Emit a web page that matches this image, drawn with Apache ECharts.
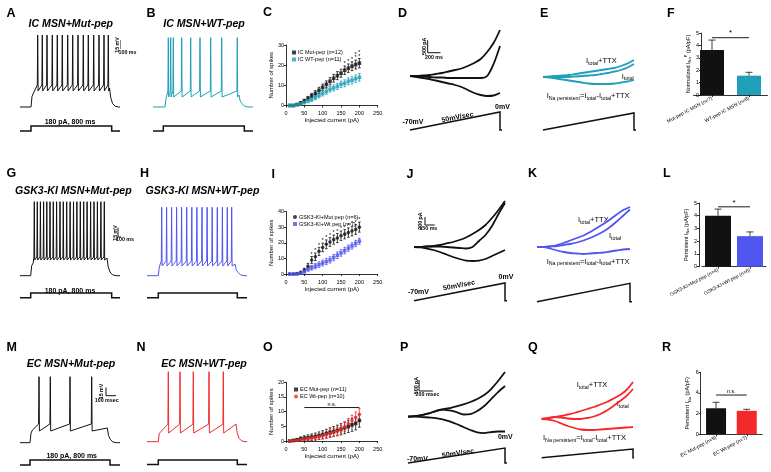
<!DOCTYPE html>
<html><head><meta charset="utf-8">
<script src="https://cdn.jsdelivr.net/npm/echarts@6/dist/echarts.min.js"></script>
<style>html,body{margin:0;padding:0;background:#fff}#c{width:771px;height:472px}</style>
</head><body><div id="c"></div>
<script>
// ================= DATA =================
// injected current steps (pA)
const currentSteps = [10,20,30,40,50,60,70,80,90,100,110,120,130,140,150,160,170,180,190,200];
// C: IC MSN
const icMutMean = [0,0,0.5,1.3,2.3,3.5,4.8,6,7.5,9,10.5,12,13.5,14.8,16,17.5,18.5,19.5,20.3,21];
const icMutErr  = [0,0.2,0.4,0.6,0.8,1,1.2,1.4,1.5,1.6,1.7,1.8,1.9,2,2,2.1,2.1,2.2,2.2,2.3];
const icWtMean  = [0,0,0.3,0.8,1.5,2.3,3,4,5,6,7,8,8.7,9.5,10.5,11,12,12.5,13.3,14];
const icWtErr   = [0,0.1,0.3,0.5,0.7,0.9,1,1.1,1.2,1.3,1.4,1.4,1.5,1.5,1.6,1.7,1.7,1.8,1.8,1.9];
const icStarX   = [160,170,180,190,200];
const icStarTxt = ['*','*','*','*\n*','*\n*'];
// I: GSK3-KI MSN
const gskMutMean = [0,0,0.3,1,2.5,5,9,11,14.5,17,19,20.5,22,23,24.5,25.5,26.5,27.5,28.5,30];
const gskMutErr  = [0,0.2,0.4,0.8,1.2,1.8,2.2,2.4,2.6,2.7,2.8,2.8,2.9,2.9,3,3,3,3.1,3.1,3.2];
const gskWtMean  = [0,0,0,0.5,1.5,3,4,5,6,7,8,9,10.5,12,13.5,15,16.5,18,19.5,21];
const gskWtErr   = [0,0.1,0.2,0.4,0.8,1.2,1.5,1.7,1.8,1.9,2,2,2,2.1,2.1,2.1,2,2,2,2];
const gskStarX   = [70,80,90,100,110,120,130,140,150,160,170,180,190,200];
// O: EC MSN
const ecMutMean = [0,0.2,0.4,0.7,0.9,1.1,1.3,1.5,1.8,2.1,2.5,2.9,3.2,3.6,4,4.5,5,5.5,6,7];
const ecMutErr  = [0.2,0.3,0.5,0.7,0.9,1,1.1,1.2,1.3,1.4,1.5,1.6,1.7,1.8,1.9,2,2.1,2.2,2.2,2.3];
const ecWtMean  = [0,0,0.2,0.4,0.6,0.8,1,1.2,1.5,1.8,2.1,2.5,2.9,3.3,3.8,4.8,6,7,8,9];
const ecWtErr   = [0.1,0.2,0.3,0.4,0.5,0.6,0.7,0.8,0.9,1,1.1,1.2,1.3,1.4,1.5,1.6,1.7,1.8,1.9,2];
const ecNsRange = [50,200]; const ecNsLevel = 11.4;
// Bar charts
const icBarLabels = ['Mut-pep IC MSN (n=7)','WT-pep IC MSN (n=8)'];
const icBarMean = [3.63,1.56]; const icBarErr = [0.8,0.27]; const icBarSig = [4.62,'*'];
const gskBarLabels = ['GSK3-KI+Mut pep (n=4)','GSK3-KI+Wt pep (n=6)'];
const gskBarMean = [4.0,2.4]; const gskBarErr = [0.52,0.33]; const gskBarSig = [4.7,'*'];
const ecBarLabels = ['EC Mut-pep (n=9)','EC Wt-pep (n=7)'];
const ecBarMean = [2.52,2.27]; const ecBarErr = [0.58,0.15]; const ecBarSig = [3.8,'n.s.'];
// Current-clamp traces: spike times (ms)
const icMutSpikes  = [177,223,270,323,373,423,477,527,580,633,683,737,790,840,883];
const icWtSpikes   = [153,177,203,287,377,470,577,687,843];
const gskMutSpikes = [143,173,204,236,268,300,333,366,400,433,467,501,535,569,603,637,671,706,740,774,809,843];
const gskWtSpikes  = [147,196,246,296,346,397,448,499,550,601,652,703,754,803,847];
const ecMutSpikes  = [190,303,500,717];
const ecWtSpikes   = [213,330,463,620,763];
// protocol times (ms): [stim on, stim off, response on, response decay]
const icMutProto  = [110,917,110,895];
const icWtProto   = [103,913,120,860];
const gskMutProto = [107,917,107,870];
const gskWtProto  = [113,903,113,880];
const ecMutProto  = [100,900,100,873];
const ecWtProto   = [113,903,113,890];
const stimAmp = 180;
// voltages (mV): [rest, early plateau, threshold, AHP, peak, end plateau]
const icMutV  = [-80,-56.7,-43.3,-53.3,40,-48.3];
const icWtV   = [-80,-62.7,-52.3,-62.7,40,-59.2];
const gskMutV = [-80,-59.4,-49.7,-54.6,40,-51.3];
const gskWtV  = [-80,-61.2,-54.2,-63,40,-59.5];
const ecMutV  = [-80,-56.9,-46,-58.7,40,-53.3];
const ecWtV   = [-80,-63.4,-50,-65.1,40,-49.7];
// Voltage-ramp currents (pA), sampled every 100 ms of the ramp
const rampTimes = [0,100,200,300,400,500,600,700,800,900,1000,1100,1200,1300,1400];
const rampT = [0,1400,1400,1460]; const rampV = [-70,0,-70,-70];
const dUpper  = [0,0,20,40,80,120,180,240,300,400,520,680,960,1320,1840];
const dMiddle = [0,0,-20,-40,-60,-60,-80,-80,-80,-80,-80,-80,0,480,1200];
const dLower  = [0,-40,-80,-120,-180,-240,-300,-360,-440,-560,-680,-760,-800,-780,-680];
const eTtx    = [0,20,40,60,80,120,160,200,240,280,320,360,440,540,680];
const eTotal  = [0,0,0,0,0,20,40,60,80,120,160,220,280,380,520];
const eLower  = [0,-20,-60,-100,-140,-180,-220,-260,-280,-280,-280,-260,-220,-180,-120];
const jUpper  = [0,0,12,25,50,88,125,175,238,325,425,550,725,925,1150];
const jMiddle = [0,0,12,12,12,0,-12,-25,-38,0,150,300,525,825,1100];
const jLower  = [0,-12,-38,-75,-125,-188,-250,-300,-338,-350,-338,-300,-225,-150,-75];
const kTtx    = [0,0,20,80,160,260,360,460,600,760,920,1100,1300,1480,1600];
const kTotal  = [0,0,20,40,80,120,180,260,360,480,620,800,1020,1260,1500];
const kLower  = [0,0,-60,-140,-200,-240,-260,-280,-260,-240,-220,-180,-140,-100,-80];
const pUpper  = [0,30,75,145,255,325,390,460,550,660,795,975,1245,1605,2010];
const pMiddle = [0,30,75,145,255,325,280,210,100,120,255,480,795,1110,1380];
const pLower  = [0,0,-15,-35,-60,-125,-215,-330,-465,-600,-710,-735,-690,-665,-665];
const qTtx    = [0,40,80,120,180,240,320,400,480,580,680,820,960,1160,1480];
const qTotal  = [0,40,80,60,20,0,0,40,100,200,340,520,720,920,1200];
const qLower  = [0,-20,-80,-180,-280,-360,-420,-440,-440,-420,-400,-380,-360,-340,-320];

// ================= STYLE / LAYOUT =================
const FONT = '"Liberation Sans", Arial, Helvetica, sans-serif';
const BLACK = '#111111', TEAL = '#1f9fb8', BLUE = '#4f55ee', RED = '#f42a2a';
const grids = [], xAxes = [], yAxes = [], series = [], legends = [], texts = [];

function hiddenGrid(left, top, width, height, xmin, xmax, ymin, ymax) {
  grids.push({left, top, width, height});
  const i = grids.length - 1;
  xAxes.push({gridIndex:i, type:'value', min:xmin, max:xmax, show:false});
  yAxes.push({gridIndex:i, type:'value', min:ymin, max:ymax, show:false});
  return i;
}
function line(i, data, color, width, extra) {
  series.push(Object.assign({type:'line', xAxisIndex:i, yAxisIndex:i, data, symbol:'none', silent:true,
    clip:false, lineStyle:{color, width, join:'miter'}}, extra || {}));
}
function buildTrace(spikes, proto, vp) {
  const [, , vOn, vOff] = proto;
  const [rest, v0, thr, ahp, peak, endV] = vp;
  const d = [[0,rest],[vOn,rest],[vOn+10,(rest+v0)/2+6],[vOn+25,v0]];
  spikes.forEach(t => { d.push([t-4,thr],[t,peak],[t+4,ahp]); });
  d.push([vOff,endV],[vOff+12,(endV+rest)/2],[vOff+30,rest+6],[vOff+55,rest+1.5],[vOff+90,rest],[1000,rest]);
  return d;
}
function stepData(proto) {
  return [[0,0],[proto[0],0],[proto[0],stimAmp],[proto[1],stimAmp],[proto[1],0],[1000,0]];
}
function spikePanel(lay, color, spikes, proto, vp, bar) {
  const [left, peakY, restY, stepTop, stepBottom] = lay;
  const g = hiddenGrid(left, peakY, 100, restY - peakY, 0, 1000, vp[0], vp[4]);
  line(g, buildTrace(spikes, proto, vp), color, 1);
  if (bar) line(g, [[bar[0], bar[1]+15],[bar[0], bar[1]],[bar[0]+100, bar[1]]], BLACK, 1);
  const s = hiddenGrid(left, stepTop, 100, stepBottom - stepTop, 0, 1000, 0, stimAmp);
  line(s, stepData(proto), BLACK, 1.5);
}
function currentPanel(lay, color, traces, bar) {
  const [left, width, y0, s, rampTop, rampH] = lay;
  const g = hiddenGrid(left, y0 - 2200/s, width, 3400/s, 0, 1400, -1200, 2200);
  traces.forEach(tr => line(g, rampTimes.map((t,k) => [t, tr[k]]), color, 1.8, {smooth:0.3}));
  if (bar) line(g, [[bar[0], bar[1]+bar[2]],[bar[0], bar[1]],[bar[0]+bar[3], bar[1]]], BLACK, 1);
  const r = hiddenGrid(left, rampTop, width, rampH, 0, 1400, -70, 0);
  line(r, rampT.map((t,k) => [t, rampV[k]]), BLACK, 1.5);
}
const axLine = {show:true, lineStyle:{color:'#000', width:0.8}};
const axTick = {show:true, length:2, lineStyle:{color:'#000', width:0.8}};
function errSeries(i, xs, means, errs, color, upOnly, cw) {
  series.push({type:'custom', xAxisIndex:i, yAxisIndex:i, silent:true, clip:false,
    data: xs.map((x,k) => [x, means[k], errs[k]]),
    renderItem: (p, api) => {
      const x = api.value(0), m = api.value(1), e = api.value(2);
      const a = api.coord([x, m + e]), b = api.coord([x, upOnly ? m : m - e]);
      const st = {stroke: color, lineWidth: 0.8};
      const ch = [{type:'line', shape:{x1:a[0], y1:a[1], x2:b[0], y2:b[1]}, style:st},
                  {type:'line', shape:{x1:a[0]-cw, y1:a[1], x2:a[0]+cw, y2:a[1]}, style:st}];
      if (!upOnly) ch.push({type:'line', shape:{x1:b[0]-cw, y1:b[1], x2:b[0]+cw, y2:b[1]}, style:st});
      return {type:'group', children: ch};
    }});
}
function xyPanel(lay, ymax, yint, sets, legendPos, extra) {
  const [left, top, width, height] = lay;
  grids.push({left, top, width, height});
  const i = grids.length - 1;
  xAxes.push({gridIndex:i, type:'value', min:0, max:250, interval:50, offset:3, axisLine:axLine, axisTick:axTick,
    splitLine:{show:false}, axisLabel:{fontSize:5.5, color:'#000', margin:2, fontFamily:FONT},
    name:'Injected current (pA)', nameLocation:'middle', nameGap:7, nameTextStyle:{fontSize:6, color:'#000', fontFamily:FONT}});
  yAxes.push({gridIndex:i, type:'value', min:0, max:ymax, interval:yint, axisLine:axLine, axisTick:axTick,
    splitLine:{show:false}, axisLabel:{fontSize:5.5, color:'#000', margin:2, fontFamily:FONT},
    name:'Number of spikes', nameLocation:'middle', nameGap:8, nameTextStyle:{fontSize:6, color:'#000', fontFamily:FONT}});
  const names = [];
  sets.forEach(s => {
    errSeries(i, currentSteps, s.mean, s.err, s.color, false, 1.3);
    series.push({type:'scatter', name:s.name, xAxisIndex:i, yAxisIndex:i, silent:true, symbol:s.symbol, symbolSize:3.6,
      itemStyle:{color:s.color}, data: currentSteps.map((x,k) => [x, s.mean[k]])});
    names.push({name:s.name, icon:s.symbol});
  });
  legends.push({left:legendPos[0], top:legendPos[1], orient:'vertical', itemWidth:4, itemHeight:4, itemGap:1,
    selectedMode:false, textStyle:{fontSize:5.5, color:'#000', fontFamily:FONT, padding:[0,0,0,-3]}, data:names});
  if (extra) extra(i);
}
function starSeries(i, xs, ys, labels) {
  series.push({type:'custom', xAxisIndex:i, yAxisIndex:i, silent:true, clip:false,
    data: xs.map((x,k) => [x, ys[k], k]),
    renderItem: (p, api) => {
      const c = api.coord([api.value(0), api.value(1)]);
      return {type:'text', x:c[0], y:c[1]-0.5, style:{text: labels[api.value(2)], fill:'#000', fontSize:5.5,
        lineHeight:3.5, fontFamily:FONT, align:'center', verticalAlign:'bottom'}};
    }});
}
function sigSeries(i, x1, x2, lvl, label, fs) {
  series.push({type:'custom', xAxisIndex:i, yAxisIndex:i, silent:true, clip:false, data:[[x1, lvl]],
    renderItem: (p, api) => {
      const a = api.coord([x1, lvl]), b = api.coord([x2, lvl]);
      return {type:'group', children:[
        {type:'line', shape:{x1:a[0], y1:a[1], x2:b[0], y2:b[1]}, style:{stroke:'#000', lineWidth:0.9}},
        {type:'text', x:(a[0]+b[0])/2, y:a[1]-0.5, style:{text:label, fill:'#000', fontSize:fs, fontFamily:FONT,
          align:'center', verticalAlign:'bottom'}}]};
    }});
}
function barPanel(lay, yOffset, ymax, yint, labels, means, errs, colors, sig, yname, barW) {
  const [left, top, width, height] = lay;
  grids.push({left, top, width, height});
  const i = grids.length - 1;
  xAxes.push({gridIndex:i, type:'category', data:labels, axisLine:axLine,
    axisTick:{show:true, alignWithLabel:true, length:2, lineStyle:{color:'#000', width:0.8}},
    axisLabel:{rotate:28, fontSize:5, color:'#000', interval:0, margin:3, fontFamily:FONT}});
  yAxes.push({gridIndex:i, type:'value', min:0, max:ymax, interval:yint, offset:yOffset, axisLine:axLine, axisTick:axTick,
    splitLine:{show:false}, axisLabel:{fontSize:5.5, color:'#000', margin:2, fontFamily:FONT},
    name:yname, nameLocation:'middle', nameGap:7,
    nameTextStyle:{fontSize:5.5, color:'#000', fontFamily:FONT, lineHeight:8,
      rich:{s:{fontSize:4, fontFamily:FONT, verticalAlign:'bottom'}, p:{fontSize:4, fontFamily:FONT, verticalAlign:'top'}}}});
  series.push({type:'bar', xAxisIndex:i, yAxisIndex:i, silent:true, barWidth:barW,
    data: means.map((v,k) => ({value:v, itemStyle:{color:colors[k]}}))});
  errSeries(i, [0,1], means, errs, BLACK, true, 3.5);
  sigSeries(i, 0, 1, sig[0], sig[1], sig[1] === '*' ? 8 : 5.5);
}
function T(x, y, text, size, o) {
  o = o || {};
  texts.push({type:'text', x, y, rotation:o.rot || 0, silent:true,
    style:{text, fill:'#000', fontSize:size, fontFamily:FONT, fontWeight:o.w || 'normal', fontStyle:o.it || 'normal',
      align:o.align || 'center', verticalAlign:'middle', lineHeight:o.lh, rich:o.rich}});
}

// ---- spike-train panels (A,B,G,H,M,N)
spikePanel([20,35,107,126,131], BLACK, icMutSpikes, icMutProto, icMutV, [1010,16.7]);
spikePanel([153,37.7,107,126,131], TEAL, icWtSpikes, icWtProto, icWtV);
spikePanel([20,201.7,275.7,293,297.7], BLACK, gskMutSpikes, gskMutProto, gskMutV, [980,-17.3]);
spikePanel([147,207.3,275.7,293,297.7], BLUE, gskWtSpikes, gskWtProto, gskWtV);
spikePanel([20,376.7,442.7,460,465], BLACK, ecMutSpikes, ecMutProto, ecMutV, [860,5.5]);
spikePanel([147,371.7,441.7,460,464.5], RED, ecWtSpikes, ecWtProto, ecWtV);

// ---- ramp-current panels (D,E,J,K,P,Q)
currentPanel([410,90,76,40,112,18], BLACK, [dUpper,dMiddle,dLower], [275,932,500,200]);
currentPanel([543,91,77,40,113,17], TEAL, [eTtx,eTotal,eLower]);
currentPanel([414,91,247,25,283,17.7], BLACK, [jUpper,jMiddle,jLower], [169,550,200,150]);
currentPanel([537,93,247,40,283.3,18.4], BLUE, [kTtx,kTotal,kLower]);
currentPanel([408,97,416.7,45,448,15], BLACK, [pUpper,pMiddle,pLower], [159,1157,500,200]);
currentPanel([541.7,91.3,419,40,449,8.7], RED, [qTtx,qTotal,qLower]);

// ---- F-I curves (C,I,O)
xyPanel([286,45,91.7,60.5], 30, 10, [
  {name:'IC Mut-pep (n=12)', mean:icMutMean, err:icMutErr, color:BLACK, symbol:'rect'},
  {name:'IC WT-pep (n=11)', mean:icWtMean, err:icWtErr, color:TEAL, symbol:'rect'}], [287,44.5],
  i => starSeries(i, icStarX, icStarX.map(x => { const k = currentSteps.indexOf(x); return icMutMean[k] + icMutErr[k]; }), icStarTxt));
xyPanel([286,211.5,91.7,62.5], 40, 10, [
  {name:'GSK3-KI+Mut pep (n=6)', mean:gskMutMean, err:gskMutErr, color:BLACK, symbol:'circle'},
  {name:'GSK3-KI+Wt pep (n=7)', mean:gskWtMean, err:gskWtErr, color:BLUE, symbol:'rect'}], [288,209],
  i => starSeries(i, gskStarX, gskStarX.map(x => { const k = currentSteps.indexOf(x); return gskMutMean[k] + gskMutErr[k]; }), gskStarX.map(() => '*')));
xyPanel([286,382.3,91.7,58.7], 20, 5, [
  {name:'EC Mut-pep (n=11)', mean:ecMutMean, err:ecMutErr, color:BLACK, symbol:'rect'},
  {name:'EC Wt-pep (n=10)', mean:ecWtMean, err:ecWtErr, color:RED, symbol:'circle'}], [289,381.5],
  i => sigSeries(i, ecNsRange[0], ecNsRange[1], ecNsLevel, 'n.s.', 5.5));

// ---- bar charts (F,L,R)
barPanel([693.5,33,74,62], -7.5, 5, 1, icBarLabels, icBarMean, icBarErr, [BLACK, TEAL], icBarSig,
  'Normalized I{s|Na}{p|P} (pA/pF)', 24);
barPanel([702,203,64,63.7], 3, 5, 1, gskBarLabels, gskBarMean, gskBarErr, [BLACK, BLUE], gskBarSig,
  'Persistent I{s|Na} (pA/pF)', 26);
barPanel([700.7,372.3,61.4,62], 0, 6, 2, ecBarLabels, ecBarMean, ecBarErr, [BLACK, RED], ecBarSig,
  'Persistent I{s|Na} (pA/pF)', 20);

// ---- text annotations
const letters = [['A',6.5,13.3],['B',146.5,13.3],['C',263,12.8],['D',398,13.3],['E',540,14],['F',667,14],
  ['G',6.5,174],['H',140,174],['I',271.5,175],['J',406.5,175],['K',528,174],['L',663,174],
  ['M',6.5,347.5],['N',136.5,347.5],['O',263,347.5],['P',400,347.5],['Q',528,347.5],['R',662,347.5]];
letters.forEach(l => T(l[1], l[2], l[0], 12.5, {w:'bold', align:'left'}));
[['IC MSN+Mut-pep',70.8,23.7],['IC MSN+WT-pep',204,23.7],['GSK3-KI MSN+Mut-pep',73.3,190.8],
 ['GSK3-KI MSN+WT-pep',202.5,190.8],['EC MSN+Mut-pep',71,364],['EC MSN+WT-pep',204,364]]
  .forEach(t => T(t[1], t[2], t[0], 10.6, {w:'bold', it:'italic'}));
[[70,122],[70,290.7],[71.7,455.7]].forEach(p => T(p[0], p[1], '180 pA, 800 ms', 7, {w:'bold'}));
// scale-bar labels
const V = Math.PI/2;
T(117.8,45,'15 mV',5.3,{w:'bold', rot:V}); T(127.5,52.6,'100 ms',5.3,{w:'bold'});
T(115.3,233,'15 mV',5.3,{w:'bold', rot:V}); T(125,239.3,'100 ms',5.3,{w:'bold'});
T(101.5,391.5,'15 mV',5.3,{w:'bold', rot:V}); T(106.7,401,'100 msec',5.3,{w:'bold'});
T(425,46.3,'500 pA',5.3,{w:'bold', rot:V}); T(434,57.7,'200 ms',5.3,{w:'bold'});
T(420.5,221,'200 pA',5.3,{w:'bold', rot:V}); T(428.3,229,'150 ms',5.3,{w:'bold'});
T(416.5,385.5,'500 pA',5.3,{w:'bold', rot:V}); T(427.5,395,'200 msec',5.3,{w:'bold'});
// ramp labels
[[413,122.5,457.5,117.3,502.5,107.5,0.19],[418.5,291.7,459,285.5,506,277.5,0.19],[417.5,459,458,453.3,505.3,437.5,0.15]]
  .forEach(r => { T(r[0],r[1],'-70mV',7,{w:'bold'}); T(r[2],r[3],'50mV/sec',7,{w:'bold', rot:r[6]}); T(r[4],r[5],'0mV',7,{w:'bold'}); });
const RICH = {s:{fontSize:5.3, fontFamily:FONT, verticalAlign:'bottom', lineHeight:10}};
[[586,61,621.7,76.5,546.7,95.7],[578,220,609,236,546.7,261.5],[576.7,385,616.7,403.7,543,438]].forEach(c => {
  T(c[0],c[1],'I{s|total}+TTX',7.5,{align:'left', rich:RICH, lh:10});
  T(c[2],c[3],'I{s|total}',7.5,{align:'left', rich:RICH, lh:10});
  T(c[4],c[5],'I{s|Na persistent}=I{s|total}-I{s|total}+TTX',7.5,{align:'left', rich:RICH, lh:10});
});

const chart = echarts.init(document.getElementById('c'), null, {renderer:'canvas'});
chart.setOption({backgroundColor:'#fff', animation:false, textStyle:{fontFamily:FONT},
  grid:grids, xAxis:xAxes, yAxis:yAxes, series, legend:legends, graphic:texts});
</script></body></html>
